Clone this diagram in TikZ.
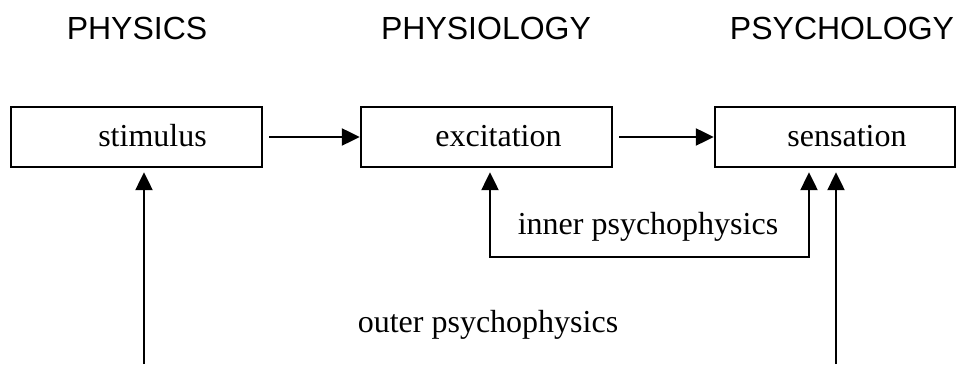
\documentclass[tikz,border=0pt]{standalone}
\usepackage{fontspec}
\setmainfont{Liberation Serif}
\newfontfamily\headfont{Liberation Sans}
\usetikzlibrary{positioning, arrows.meta}

\begin{document}
\begin{tikzpicture}[
    x=1pt, y=1pt,
    >={Triangle[length=9pt, width=8.5pt]},
    every node/.style={font=\fontsize{16}{19}\selectfont},
    block/.style={draw, line width=1.25pt, minimum width=125.5pt, minimum height=30pt, inner sep=0pt},
    arrow/.style={->, line width=1.25pt, shorten >=2pt},
    heading/.style={font=\headfont\fontsize{16}{19}\selectfont, anchor=base},
    caption/.style={anchor=base},
]
\useasboundingbox (0,0) rectangle (479,182);
\node[heading] (h_phys) at (68.5,162) {PHYSICS};
\node[heading] (h_physio) at (243,162) {PHYSIOLOGY};
\node[heading] (h_psych) at (421,162) {PSYCHOLOGY};
\node[block] (stim) at (68.25,113.5) {};
\node[block] (exc) at (243.25,113.5) {};
\node[block, minimum width=120pt] (sens) at (417.5,113.5) {};
\node[caption] (stim_txt) at ([xshift=8pt, yshift=-5pt]stim.center) {stimulus};
\node[caption] (exc_txt) at ([xshift=6pt, yshift=-5pt]exc.center) {excitation};
\node[caption] (sens_txt) at ([xshift=6pt, yshift=-5pt]sens.center) {sensation};
\draw[arrow, shorten <=3pt, shorten >=0pt] (stim.east) -- (exc.west);
\draw[arrow, shorten <=3pt, shorten >=0pt] (exc.east) -- (sens.west);
\coordinate (inner_l) at (245,53.5);
\coordinate (inner_r) at (404.5,53.5);
\draw[arrow, <->, shorten <=2pt] (inner_l |- exc.south) -- (inner_l) -- (inner_r) -- (inner_r |- sens.south);
\node[caption] (inner_lbl) at (324,64.5) {inner psychophysics};
\coordinate (outer_l) at (72,0);
\coordinate (outer_r) at (418,0);
\draw[arrow] (outer_l) -- (outer_l |- stim.south);
\draw[arrow] (outer_r) -- (outer_r |- sens.south);
\node[caption] (outer_lbl) at (244,16) {outer psychophysics};
\end{tikzpicture}
\end{document}
